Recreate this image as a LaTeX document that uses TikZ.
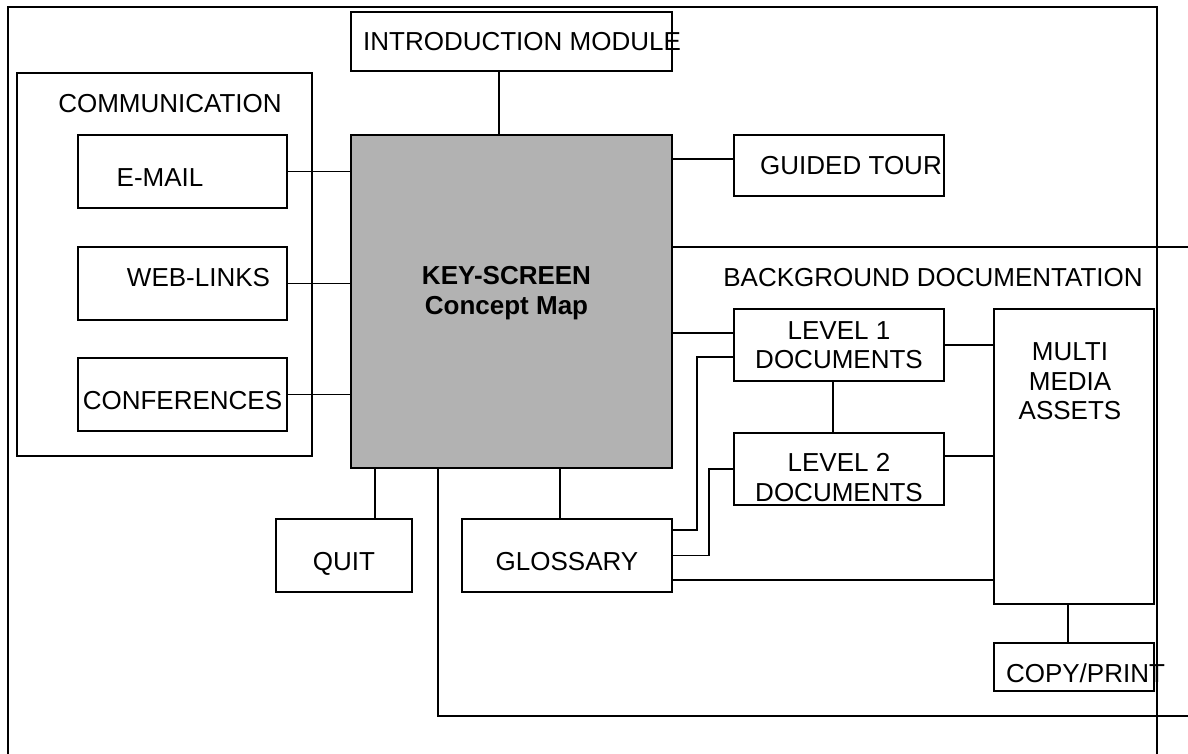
\documentclass[tikz,border=0pt]{standalone}
\usepackage{fontspec}
\setmainfont{Liberation Sans}
\usepackage{xcolor}
\usetikzlibrary{positioning}
\definecolor{KeyGray}{HTML}{B2B2B2}
\newcommand{\mapfont}{\fontsize{13}{14.8}\selectfont}
% shift a one-line text sideways without widening its box
\newcommand{\nudge}[2]{\makebox[0pt]{\hspace*{#1}\hspace*{#1}#2}}
\tikzset{
  mapbox/.style={draw=black,line width=0.9pt,fill=white,inner sep=0pt,outer sep=0pt,font=\mapfont},
  keybox/.style={mapbox,fill=KeyGray},
  groupbox/.style={draw=black,line width=0.9pt,inner sep=0pt,outer sep=0pt},
  maplink/.style={line width=0.9pt,draw=black},
  mapframe/.style={line width=1.2pt,draw=black},
  sunk/.style={text height=15.3pt,text depth=0pt},
  lifted/.style={text height=9.3pt,text depth=6pt}
}
\begin{document}
\begin{tikzpicture}[x=0.5pt,y=-0.5pt]
\useasboundingbox (0,0) rectangle (1188,754);
\draw[mapframe] (8,754) |- (1157,7) -- (1157,754);

% communication group
\node[groupbox,minimum width=147.5pt,minimum height=191.5pt] (comm) at (164.5,264.5) {};
\node[font=\mapfont,inner sep=0pt] (commtitle) at (170,104) {COMMUNICATION};
\node[mapbox,sunk,minimum width=104.5pt,minimum height=36.5pt] (email) at (182.5,171.5) {\nudge{-11.25pt}{E-MAIL}};
\node[mapbox,lifted,minimum width=104.5pt,minimum height=36.5pt,below=19.5pt of email] (webl) {\nudge{8pt}{WEB-LINKS}};
\node[mapbox,sunk,minimum width=104.5pt,minimum height=36.5pt,below=19pt of webl] (conf) {CONFERENCES};

% centre
\node[mapbox,minimum width=160.5pt,minimum height=29.5pt] (intro) at (511.5,41.5) {\nudge{5.25pt}{INTRODUCTION MODULE}};
\node[keybox,minimum width=160.5pt,minimum height=166.5pt,
  label={[name=kstitle,font=\mapfont\bfseries,align=center,xshift=-2.5pt,yshift=4.25pt]center:KEY-SCREEN\\Concept Map}] (ks) at (511.5,301.5) {};
\node[mapbox,minimum width=105pt,minimum height=30.5pt] (guided) at (839,165.5) {\nudge{6pt}{GUIDED TOUR}};
\node[mapbox,sunk,minimum width=68pt,minimum height=36.5pt] (quit) at (344,555.5) {QUIT};
\node[mapbox,sunk,minimum width=105pt,minimum height=36.5pt] (gloss) at (567,555.5) {GLOSSARY};

% background documentation
\node[font=\mapfont,inner sep=0pt] (bgtitle) at (933,278) {BACKGROUND DOCUMENTATION};
\node[mapbox,align=center,minimum width=105pt,minimum height=36pt] (lvl1) at (839,345) {LEVEL 1\\DOCUMENTS};
\node[mapbox,minimum width=105pt,minimum height=36pt,below=26pt of lvl1,
  label={[name=lvl2title,font=\mapfont,align=center,yshift=-4.25pt]center:LEVEL 2\\DOCUMENTS}] (lvl2) {};
\node[mapbox,minimum width=80pt,minimum height=147.5pt,
  label={[name=multititle,font=\mapfont,align=center,xshift=-2pt,yshift=37.5pt]center:MULTI\\MEDIA\\ASSETS}] (multi) at (1074,456.5) {};
\node[mapbox,sunk,minimum width=80pt,minimum height=24pt,below=19.5pt of multi] (copy) {\nudge{5.75pt}{COPY/PRINT}};

\coordinate (bgtop) at (1188,247);
\coordinate (bgbot) at (1188,716);

\draw[maplink] ([xshift=-6.25pt]intro.south) -- ([xshift=-6.25pt]ks.north);
\foreach \n in {email,webl,conf}
  \draw[maplink] (\n.east) -- (\n.east -| ks.west);
\draw[maplink] ([yshift=3.25pt]guided.west) -- ([yshift=3.25pt]guided.west -| ks.east);
\draw[maplink] (bgtop -| ks.east) -- (bgtop);
\draw[maplink] ([xshift=43.5pt]ks.south west) |- (bgbot);
\draw[maplink] ([yshift=6pt]lvl1.west) -- ([yshift=6pt]lvl1.west -| ks.east);
\draw[maplink] (lvl1.east) -- (lvl1.east -| multi.west);
\draw[maplink] ([yshift=6.5pt]lvl2.east) -- ([yshift=6.5pt]lvl2.east -| multi.west);
\draw[maplink] ([xshift=-3pt]lvl1.south) -- ([xshift=-3pt]lvl2.north);
\draw[maplink] ([xshift=-3pt]multi.south) -- ([xshift=-3pt]copy.north);
\draw[maplink] ([xshift=15.5pt]quit.north) -- ([xshift=15.5pt]quit.north |- ks.south);
\draw[maplink] ([xshift=-3.5pt]gloss.north) -- ([xshift=-3.5pt]gloss.north |- ks.south);
\draw[maplink] ([yshift=12.75pt]gloss.east) -- ++(25,0) |- ([yshift=-6pt]lvl1.west);
\draw[maplink] (gloss.east) -- ++(37,0) |- (lvl2.west);
\draw[maplink] ([yshift=-12.25pt]gloss.east) -- ([yshift=-12.25pt]gloss.east -| multi.west);
\end{tikzpicture}
\end{document}
